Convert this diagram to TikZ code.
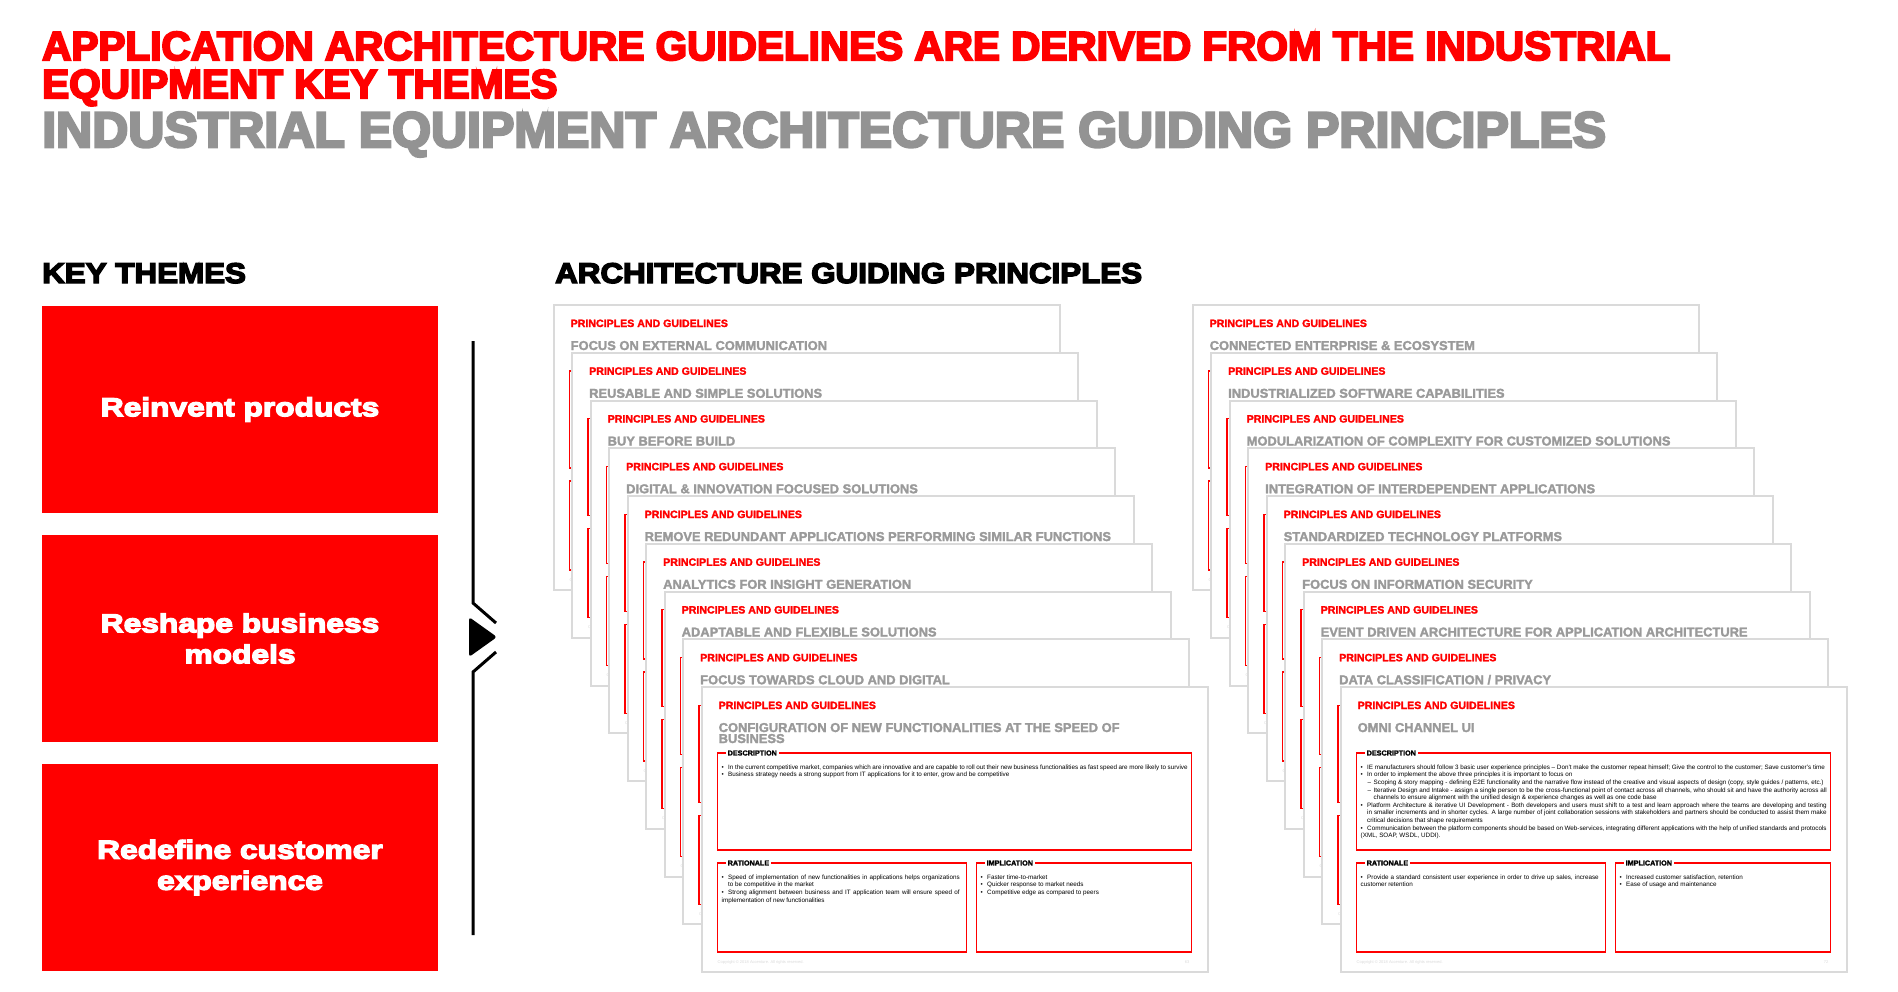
\documentclass[tikz,border=0pt]{standalone}
\usepackage{fontspec}
\setmainfont{Liberation Sans}
\newfontfamily\heavyfont{Liberation Sans}[BoldFeatures={FakeBold=5}]
\newfontfamily\widefont{Liberation Sans}[BoldFeatures={FakeBold=5, FakeStretch=1.22}]
\newfontfamily\headfont{Liberation Sans}[BoldFeatures={FakeBold=5, FakeStretch=1.1}]
\newfontfamily\boldfont{Liberation Sans}[BoldFeatures={FakeBold=2}]

\definecolor{accred}{HTML}{FF0000}
\definecolor{titlegray}{HTML}{939393}
\definecolor{slidegray}{HTML}{9A9A9A}
\definecolor{framegray}{HTML}{DADADA}

\newcommand{\nohyph}{\hyphenpenalty=10000\relax\exhyphenpenalty=10000\relax\emergencystretch=20pt\relax}
\newcommand{\bitem}[1]{\par\noindent\hangindent=6.5pt\hangafter=1\makebox[6.5pt][l]{\textbullet}#1}
\newcommand{\ditem}[1]{\par\noindent\hangindent=13pt\hangafter=1\hspace*{7pt}\makebox[6pt][l]{--}#1}

\tikzset{
  base/.style={inner sep=0pt, anchor=base west},
  theme/.style={fill=accred, text=white, minimum width=396pt, minimum height=207pt, inner sep=0pt, align=center,
    font=\widefont\bfseries\fontsize{26}{31}\selectfont},
  heading/.style={base, font=\headfont\bfseries\fontsize{28.5}{32}\selectfont},
  slide/.style={draw=framegray, line width=2pt, fill=white},
  sectbox/.style={draw=accred, line width=1.2pt},
  sectlabel/.style={anchor=west, fill=white, inner xsep=2pt, inner ysep=1pt, font=\boldfont\bfseries\fontsize{7.2}{8}\selectfont},
  pglabel/.style={base, text=accred, font=\boldfont\bfseries\fontsize{10.6}{12}\selectfont},
  pgtitle/.style={base, text=slidegray, font=\boldfont\bfseries\fontsize{12.9}{12}\selectfont},
  bodytext/.style={anchor=north west, inner sep=0pt, align=justify, font=\fontsize{6.3}{7.6}\selectfont},
  footer/.style={base, text=framegray, font=\fontsize{4}{5}\selectfont},
}

\begin{document}
\begin{tikzpicture}[x=1pt, y=-1pt]
	\useasboundingbox (0,0) rectangle (1898,991);

	% Titles
	\node[base, text=accred, font=\heavyfont\bfseries\fontsize{40.5}{40}\selectfont] (title1) at (42,60)
		{APPLICATION ARCHITECTURE GUIDELINES ARE DERIVED FROM THE INDUSTRIAL};
	\node[base, text=accred, font=\heavyfont\bfseries\fontsize{40.5}{40}\selectfont] (title2) at (42,98)
		{EQUIPMENT KEY THEMES};
	\node[base, text=titlegray, font=\heavyfont\bfseries\fontsize{50}{49}\selectfont] (subtitle) at (42,147)
		{INDUSTRIAL EQUIPMENT ARCHITECTURE GUIDING PRINCIPLES};
	\node[heading] (keyhead) at (42,283) {KEY THEMES};
	\node[heading] (archhead) at (555,283) {ARCHITECTURE GUIDING PRINCIPLES};

	% Key themes
	\node[theme] (reinvent) at (240,409.5) {Reinvent products};
	\node[theme] (reshape) at (240,638.5) {Reshape business\\models};
	\node[theme] (redefine) at (240,867.5) {Redefine customer\\experience};

	% Bracket with arrow
	\coordinate (b1) at (473,341);
	\coordinate (b2) at (473,603);
	\coordinate (b3) at (496,623);
	\coordinate (b4) at (496,652);
	\coordinate (b5) at (473,672);
	\coordinate (b6) at (473,935);
	\draw[line width=3pt] (b1) -- (b2) -- (b3);
	\draw[line width=3pt] (b4) -- (b5) -- (b6);
	\fill[rounded corners=3pt] (469,617) -- (497,637) -- (469,657) -- cycle;

	% Stacked slides
	\foreach \ltitle/\rtitle [count=\i from 0] in {
		FOCUS ON EXTERNAL COMMUNICATION/CONNECTED ENTERPRISE \& ECOSYSTEM,
		REUSABLE AND SIMPLE SOLUTIONS/INDUSTRIALIZED SOFTWARE CAPABILITIES,
		BUY BEFORE BUILD/MODULARIZATION OF COMPLEXITY FOR CUSTOMIZED SOLUTIONS,
		DIGITAL \& INNOVATION FOCUSED SOLUTIONS/INTEGRATION OF INTERDEPENDENT APPLICATIONS,
		REMOVE REDUNDANT APPLICATIONS PERFORMING SIMILAR FUNCTIONS/STANDARDIZED TECHNOLOGY PLATFORMS,
		ANALYTICS FOR INSIGHT GENERATION/FOCUS ON INFORMATION SECURITY,
		ADAPTABLE AND FLEXIBLE SOLUTIONS/EVENT DRIVEN ARCHITECTURE FOR APPLICATION ARCHITECTURE,
		FOCUS TOWARDS CLOUD AND DIGITAL/DATA CLASSIFICATION {/} PRIVACY,
		CONFIGURATION OF NEW FUNCTIONALITIES AT THE SPEED OF/OMNI CHANNEL UI}{
		\foreach \side/\xo/\ttl in {L/553.5/\ltitle, R/1192.5/\rtitle}{
			\begin{scope}[shift={({\xo+18.5*\i},{305+47.75*\i})}]
				\draw[slide] (0,0) rectangle (506,285);
				\node[pglabel] (lab\side\i) at (17,22) {PRINCIPLES AND GUIDELINES};
				\node[pgtitle] (tit\side\i) at (17,45) {\ttl};
				\draw[sectbox] (16,66) rectangle (490,163);
				\draw[sectbox] (16,176) rectangle (265,265);
				\draw[sectbox] (275,176) rectangle (490,265);
				\node[sectlabel] (desc\side\i) at (24,66) {DESCRIPTION};
				\node[sectlabel] (rat\side\i) at (24,176) {RATIONALE};
				\node[sectlabel] (imp\side\i) at (283,176) {IMPLICATION};
				\node[footer] (foot\side\i) at (16,276) {Copyright © 2018 Accenture. All rights reserved.};
			\end{scope}
		}
	}

	% Front slide, left
	\begin{scope}[shift={(701.5,687)}]
		\node[pgtitle] (titL8b) at (17,56) {BUSINESS};
		\node[bodytext, text width=466pt] (bodyL1) at (20,74.5) {\nohyph
			\bitem{In the current competitive market, companies which are innovative and are capable to roll out their new business functionalities as fast speed are more likely to survive}
			\bitem{Business strategy needs a strong support from IT applications for it to enter, grow and be competitive}};
		\node[bodytext, text width=238pt] (bodyL2) at (20,184.5) {\nohyph
			\bitem{Speed of implementation of new functionalities in applications helps organizations to be competitive in the market}
			\bitem{Strong alignment between business and IT application team will ensure speed of implementation of new functionalities}};
		\node[bodytext, text width=200pt] (bodyL3) at (279,184.5) {\nohyph
			\bitem{Faster time-to-market}
			\bitem{Quicker response to market needs}
			\bitem{Competitive edge as compared to peers}};
		\node[footer, anchor=base east] (pageL) at (488,276) {63};
	\end{scope}

	% Front slide, right
	\begin{scope}[shift={(1340.5,687)}]
		\node[bodytext, text width=466pt] (bodyR1) at (20,74.5) {\nohyph
			\bitem{IE manufacturers should follow 3 basic user experience principles -- Don't make the customer repeat himself; Give the control to the customer; Save customer's time}
			\bitem{In order to implement the above three principles it is important to focus on}
			\ditem{Scoping \& story mapping - defining E2E functionality and the narrative flow instead of the creative and visual aspects of design (copy, style guides / patterns, etc.)}
			\ditem{Iterative Design and Intake - assign a single person to be the cross-functional point of contact across all channels, who should sit and have the authority across all channels to ensure alignment with the unified design \& experience changes as well as one code base}
			\bitem{Platform Architecture \& iterative UI Development - Both developers and users must shift to a test and learn approach where the teams are developing and testing in smaller increments and in shorter cycles. A large number of joint collaboration sessions with stakeholders and partners should be conducted to assist them make critical decisions that shape requirements}
			\bitem{Communication between the platform components should be based on Web-services, integrating different applications with the help of unified standards and protocols (XML, SOAP, WSDL, UDDI).}};
		\node[bodytext, text width=238pt] (bodyR2) at (20,184.5) {\nohyph
			\bitem{Provide a standard consistent user experience in order to drive up sales, increase customer retention}};
		\node[bodytext, text width=200pt] (bodyR3) at (279,184.5) {\nohyph
			\bitem{Increased customer satisfaction, retention}
			\bitem{Ease of usage and maintenance}};
		\node[footer, anchor=base east] (pageR) at (488,276) {72};
	\end{scope}
\end{tikzpicture}
\end{document}
